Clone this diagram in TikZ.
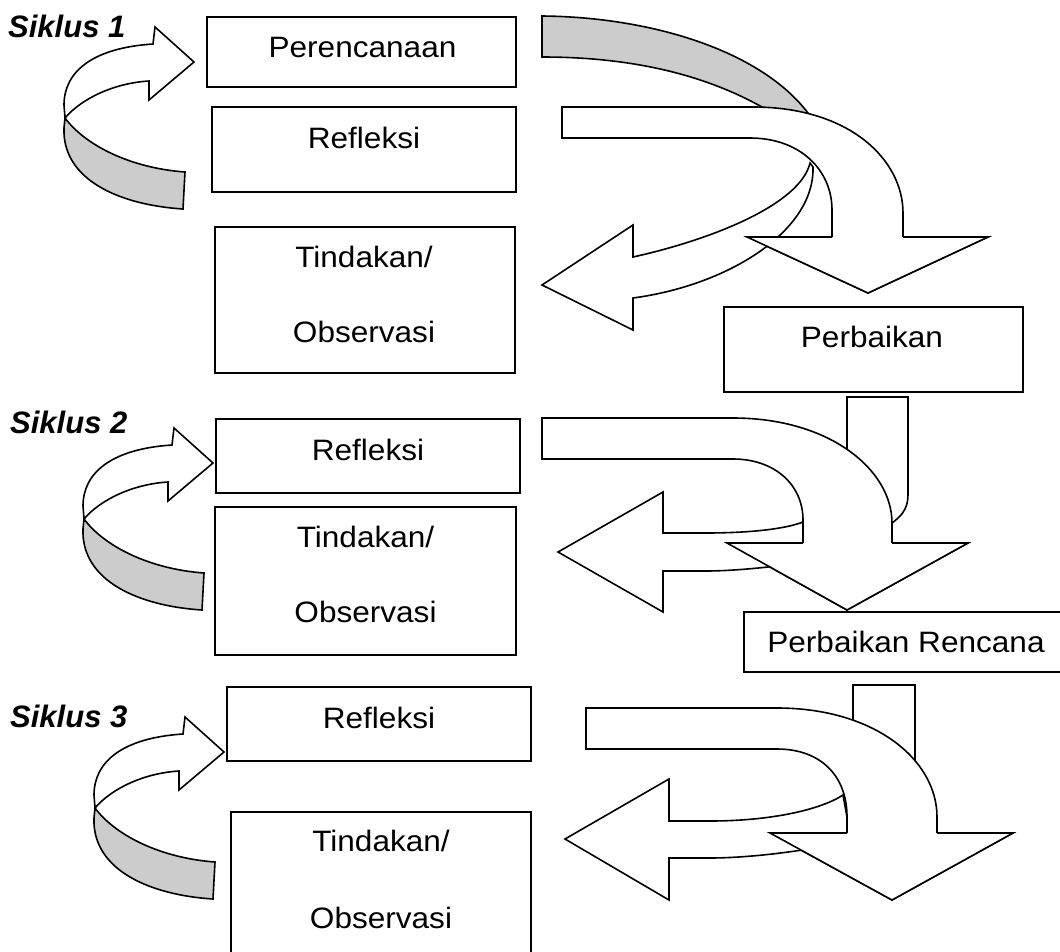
\documentclass[tikz,border=0pt]{standalone}
\usepackage{fontspec}
\setmainfont{Liberation Sans}
\newfontfamily\boxfont{Liberation Sans}[FakeStretch=1.07]
\definecolor{ribbon}{RGB}{204,204,204}
\tikzset{
  box/.style={draw=black, line width=1.8pt, inner sep=0pt, fill=white},
  lbl/.style={font=\boxfont\fontsize{29.5}{36}\selectfont, anchor=base, inner sep=0pt},
  cyc/.style={font=\fontsize{31}{36}\selectfont\bfseries\itshape, anchor=base west, inner sep=0pt},
  shp/.style={draw=black, line width=1.6pt, fill=white, line join=miter},
  back/.style={draw=black, line width=1.6pt, fill=ribbon},
  edge/.style={draw=black, line width=1.6pt, line join=miter},
}
\newcommand{\loopArrow}{%
  \filldraw[back] (65,118) .. controls (85,145) and (130,168) .. (185,172)
    -- (183,209) .. controls (120,205) and (62,180) .. (64,128) -- cycle;
  \filldraw[shp] (153,44) -- (155,27) -- (194,62) -- (149,100) -- (149,81)
    .. controls (115,83) and (82,98) .. (65,118)
    -- (64,105) .. controls (64,72) and (92,48) .. (153,44) -- cycle;
}
\begin{document}
\begin{tikzpicture}[x=1pt,y=-1pt]
\useasboundingbox (0,0) rectangle (1060,951);

% ---------- left loops ----------
\loopArrow
\begin{scope}[shift={(19,401)}]\loopArrow\end{scope}
\begin{scope}[shift={(30,690)}]\loopArrow\end{scope}

% ---------- cycle labels ----------
\node[cyc] (s1) at (8,37) {Siklus 1};
\node[cyc] (s2) at (10,433) {Siklus 2};
\node[cyc] (s3) at (10,727) {Siklus 3};

% ---------- cycle 1 boxes ----------
\node[box, minimum width=309pt, minimum height=70pt] (plan) at (361.5,52) {};
\node[lbl] (planT) at (362.5,57) {Perencanaan};
\node[box, minimum width=304pt, minimum height=85pt] (ref1) at (364,149.5) {};
\node[lbl] (ref1T) at (364,148) {Refleksi};
\node[box, minimum width=300pt, minimum height=146pt] (tin1) at (365,300) {};
\node[lbl] (tin1a) at (364,267) {Tindakan/};
\node[lbl] (tin1b) at (364,342) {Observasi};

% ---------- cycle 1 right arrows ----------
\filldraw[back] (542,16) .. controls (650,17) and (760,50) .. (808,113)
  -- (810,118) -- (766,114) -- (762,107)
  .. controls (710,78) and (640,57) .. (542,57) -- cycle;
\filldraw[shp] (562,107) -- (753,107) .. controls (850,107) and (903,160) .. (903,213)
  -- (903,237) -- (988,237) -- (868,293) -- (747,237) -- (832,237) -- (832,210)
  .. controls (832,170) and (800,138) .. (750,138) -- (562,138) -- cycle;
\filldraw[shp] (810,163) .. controls (800,205) and (710,240) .. (633,257)
  -- (633,225) -- (542,285) -- (633,330) -- (633,298)
  .. controls (730,285) and (815,230) .. (813,167) -- cycle;
\fill[white] (747,237) -- (988,237) -- (868,293) -- cycle;
\draw[edge] (832,237) -- (747,237) -- (868,293) -- (988,237) -- (903,237);
\node[box, minimum width=299pt, minimum height=85pt] (perb1) at (873.5,349.5) {};
\node[lbl] (perb1T) at (872,347) {Perbaikan};

% ---------- cycle 2 boxes ----------
\node[box, minimum width=304pt, minimum height=74pt] (ref2) at (368,456) {};
\node[lbl] (ref2T) at (368,460) {Refleksi};
\node[box, minimum width=301pt, minimum height=148pt] (tin2) at (365.5,581) {};
\node[lbl] (tin2a) at (365.5,547) {Tindakan/};
\node[lbl] (tin2b) at (365.5,622) {Observasi};

% ---------- cycle 2 right arrows ----------
\fill[white] (847,460) -- (847,397) -- (908,397) -- (908,495)
  .. controls (908,510) and (900,517) .. (892,523) -- cycle;
\draw[edge] (847,460) -- (847,397) -- (908,397) -- (908,495)
  .. controls (908,510) and (900,517) .. (892,523);
\filldraw[shp] (542,418) -- (733,418) .. controls (830,418) and (892,470) .. (892,523)
  -- (892,543) -- (968,543) -- (847,610) -- (727,543) -- (803,543) -- (803,520)
  .. controls (803,485) and (775,459) .. (733,459) -- (542,459) -- cycle;
\filldraw[shp] (663,492) -- (663,533) -- (705,533) .. controls (750,533) and (785,529) .. (803,522)
  -- (803,560) -- (768,567) .. controls (740,570) and (720,571) .. (705,571)
  -- (663,571) -- (663,612) -- (558,552) -- cycle;
\fill[white] (727,543) -- (968,543) -- (847,610) -- cycle;
\draw[edge] (803,543) -- (727,543) -- (847,610) -- (968,543) -- (892,543);
\node[box, minimum width=322pt, minimum height=60pt] (perb2) at (905,642) {};
\node[lbl] (perb2T) at (906,652) {Perbaikan Rencana};

% ---------- cycle 3 boxes ----------
\node[box, minimum width=304pt, minimum height=74pt] (ref3) at (379,724) {};
\node[lbl] (ref3T) at (379,728) {Refleksi};
\node[box, minimum width=300pt, minimum height=150pt] (tin3) at (381,887) {};
\node[lbl] (tin3a) at (381,851) {Tindakan/};
\node[lbl] (tin3b) at (381,928) {Observasi};

% ---------- cycle 3 right arrows ----------
\fill[white] (853,735) -- (853,685) -- (915,685) -- (915,775) -- cycle;
\draw[edge] (853,735) -- (853,685) -- (915,685) -- (915,775);
\filldraw[shp] (586,708) -- (777,708) .. controls (875,708) and (937,760) .. (937,817)
  -- (937,833) -- (1013,833) -- (892,900) -- (770,833) -- (847,833) -- (847,817)
  .. controls (847,775) and (820,749) .. (777,749) -- (586,749) -- cycle;
\filldraw[shp] (669,779) -- (669,821) -- (710,821) .. controls (770,821) and (820,810) .. (843,795)
  -- (847,817) -- (847,845) -- (802,850) .. controls (770,855) and (735,858) .. (710,858)
  -- (669,858) -- (669,900) -- (565,839) -- cycle;
\fill[white] (770,833) -- (1013,833) -- (892,900) -- cycle;
\draw[edge] (847,833) -- (770,833) -- (892,900) -- (1013,833) -- (937,833);
\end{tikzpicture}
\end{document}
